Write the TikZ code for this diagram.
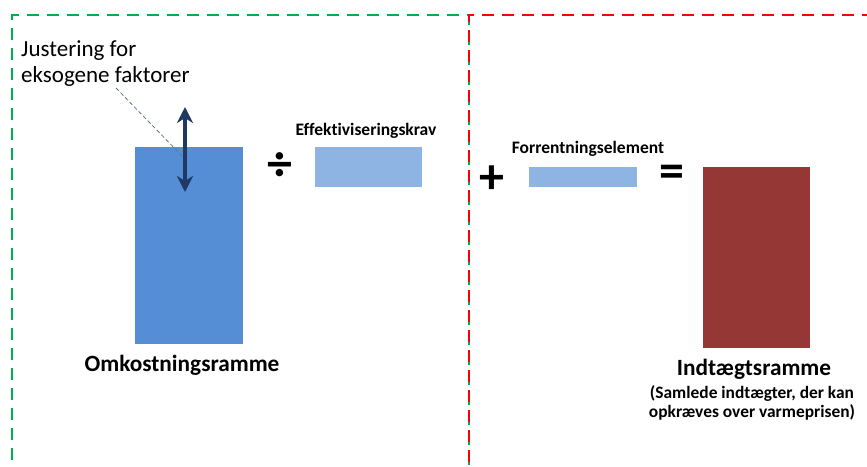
\documentclass[tikz,border=0pt]{standalone}
\usepackage{fontspec}
\setmainfont{Carlito}[Ligatures={NoCommon}]
\usetikzlibrary{arrows.meta}
\definecolor{dgreen}{HTML}{00B050}
\definecolor{dred}{HTML}{FF0000}
\definecolor{barblue}{HTML}{558ED5}
\definecolor{lightblue}{HTML}{8EB4E3}
\definecolor{barred}{HTML}{953735}
\definecolor{navy}{HTML}{1F3864}
\begin{document}
\begin{tikzpicture}[x=1pt,y=-1pt,
  frame/.style={line width=2.6pt,dash pattern=on 12pt off 8pt},
  bar/.style={draw=none,inner sep=0pt,outer sep=0pt},
  biglabel/.style={font=\fontsize{23.3}{27}\selectfont\bfseries,inner sep=0pt},
  smalllabel/.style={font=\fontsize{17.5}{20}\selectfont\bfseries,inner sep=0pt},
  sublabel/.style={font=\fontsize{17.4}{19.5}\selectfont\bfseries,inner sep=0pt,align=center},
  opsym/.style={font=\fontsize{50}{50}\selectfont\bfseries,inner sep=0pt}]
\useasboundingbox (0,0) rectangle (867,466);
% frames
\draw[frame,dgreen] (12,480) -- (12,15) -- (469,15) -- (469,480);
\draw[frame,dred,dash phase=2pt] (469,480) -- (469,15) -- (880,15);
% bars
\node[bar,fill=barblue,minimum width=108pt,minimum height=197pt,anchor=north west] (omk) at (135,147) {};
\node[bar,fill=lightblue,minimum width=107pt,minimum height=40pt,anchor=north west] (eff) at (315,147) {};
\node[bar,fill=lightblue,minimum width=108pt,minimum height=20pt,anchor=north west] (forr) at (529,167) {};
\node[bar,fill=barred,minimum width=107pt,minimum height=181pt,anchor=north west] (ind) at (703,167) {};
% operators
\node[opsym] (div) at (280,167) {÷};
\node[opsym] (plus) at (492,180) {+};
\node[opsym] (eq) at (672,176) {=};
% labels
\node[smalllabel] (efflab) at (366,131) {Effektiviseringskrav};
\node[smalllabel] (forlab) at (588,149) {Forrentningselement};
\node[biglabel] (omklab) at (182,365) {Omkostningsramme};
\node[biglabel] (indlab) at (754,369) {Indtægtsramme};
\node[sublabel,anchor=north] (indsub) at (752,385) {(Samlede indtægter, der kan\\opkræves over varmeprisen)};
\node[font=\fontsize{23}{26}\selectfont,align=left,anchor=north west,inner sep=0pt] (just) at (21,40) {Justering for\\eksogene faktorer};
% adjustment arrow
\coordinate (atop) at (185,107);
\coordinate (abot) at (185,192);
\draw[navy,line width=3.5pt,{Stealth[length=16pt,width=16pt,inset=5pt]}-{Stealth[length=16pt,width=16pt,inset=5pt]}] (atop) -- (abot);
\coordinate (leadend) at (183,157);
\draw[navy!70,line width=0.8pt,dash pattern=on 4pt off 2.5pt] (116,88) -- (leadend);
\end{tikzpicture}
\end{document}
